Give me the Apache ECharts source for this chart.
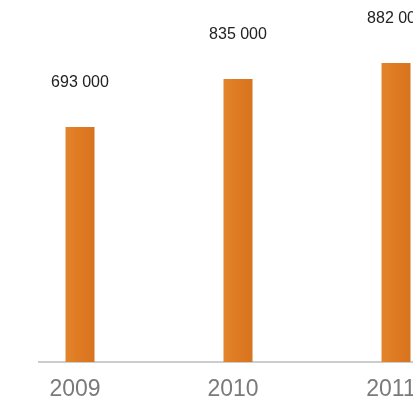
<!DOCTYPE html>
<html>
<head>
<meta charset="utf-8">
<script src="https://cdn.jsdelivr.net/npm/echarts@6/dist/echarts.min.js"></script>
<style>html,body{margin:0;padding:0;background:#fff}#c{width:413px;height:405px}</style>
</head>
<body>
<div id="c"></div>
<script>
const categories = ['2009', '2010', '2011'];
const values = [693000, 835000, 882000];
const valueLabels = ['693 000', '835 000', '882 000'];

const chart = echarts.init(document.getElementById('c'));
chart.setOption({
  animation: false,
  grid: { left: 1, width: 474, top: 23, bottom: 43, outerBoundsMode: 'none' },
  xAxis: {
    type: 'category',
    data: categories,
    axisLine: { show: false },
    axisTick: { show: false },
    axisLabel: {
      color: '#7a7a7a',
      fontFamily: 'Liberation Sans',
      fontSize: 23,
      margin: 16,
      padding: [0, 10, 0, 0]
    }
  },
  yAxis: {
    type: 'value',
    min: 0,
    max: 1000000,
    show: false,
    splitLine: { show: false }
  },
  series: [{
    type: 'bar',
    data: values,
    barWidth: 29,
    itemStyle: {
      color: {
        type: 'linear', x: 0, y: 0, x2: 1, y2: 0,
        colorStops: [
          { offset: 0, color: '#E3852C' },
          { offset: 0.5, color: '#DD7A22' },
          { offset: 1, color: '#D8741F' }
        ]
      }
    },
    label: {
      show: true,
      position: 'top',
      distance: 36,
      color: '#222',
      fontFamily: 'Liberation Sans',
      fontSize: 16,
      formatter: p => valueLabels[p.dataIndex]
    }
  }]
});

const y0 = chart.convertToPixel({ yAxisIndex: 0 }, 0);
chart.setOption({
  graphic: [{
    type: 'line',
    shape: { x1: 38, y1: y0, x2: 413, y2: y0 },
    style: { stroke: '#9a9a9a', lineWidth: 1 }
  }]
});
</script>
</body>
</html>
